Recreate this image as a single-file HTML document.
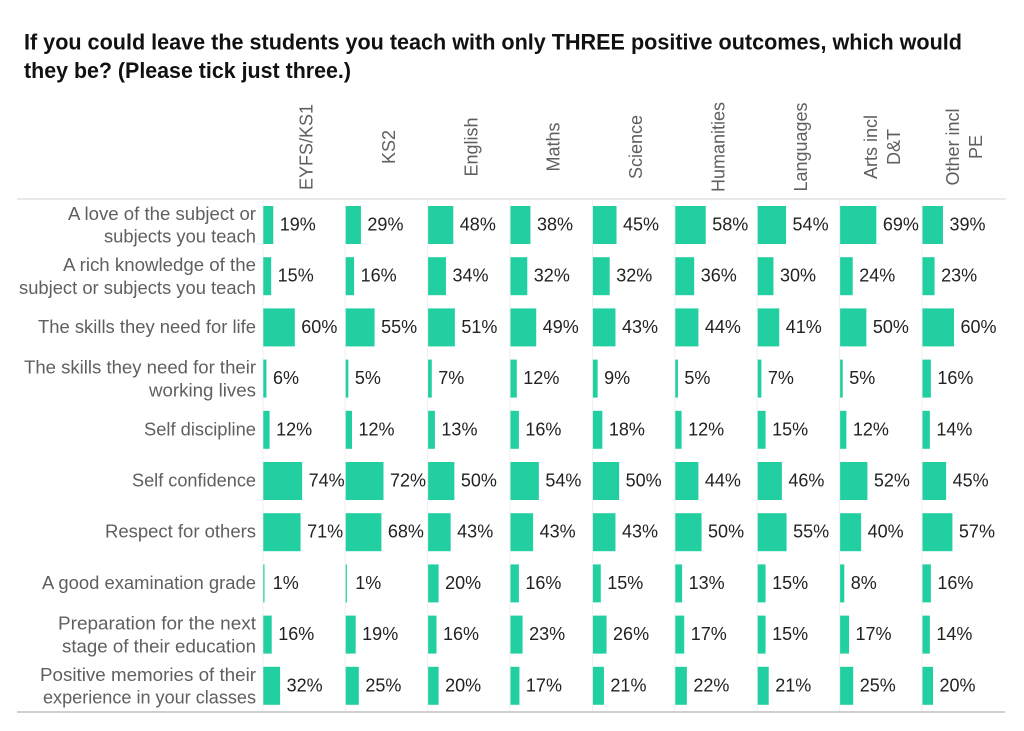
<!DOCTYPE html>
<html><head><meta charset="utf-8"><style>
html,body{margin:0;padding:0;background:#fff;}
svg{display:block;}
text{font-family:"Liberation Sans",Arial,sans-serif;}
.t{font-weight:bold;font-size:22.5px;fill:#111;}
.rl{font-size:18px;fill:#5f5f5f;text-anchor:end;}
.hd{font-size:18px;fill:#5f5f5f;text-anchor:middle;}
.pv{font-size:18px;fill:#222;}
.bar{fill:#22cfa1;}
</style></head><body>
<svg width="1024" height="731" viewBox="0 0 1024 731" xmlns="http://www.w3.org/2000/svg">
<rect width="1024" height="731" fill="#fff"/>
<text class="t" x="24" y="49.5" textLength="938" lengthAdjust="spacingAndGlyphs">If you could leave the students you teach with only THREE positive outcomes, which would</text>
<text class="t" x="24" y="78" textLength="327" lengthAdjust="spacingAndGlyphs">they be? (Please tick just three.)</text>
<g id="sep" stroke="#efefef" stroke-width="1">
<line x1="263" y1="200" x2="263" y2="712"/>
<line x1="345.2" y1="200" x2="345.2" y2="712"/>
<line x1="427.6" y1="200" x2="427.6" y2="712"/>
<line x1="510" y1="200" x2="510" y2="712"/>
<line x1="592.4" y1="200" x2="592.4" y2="712"/>
<line x1="674.8" y1="200" x2="674.8" y2="712"/>
<line x1="757.2" y1="200" x2="757.2" y2="712"/>
<line x1="839.6" y1="200" x2="839.6" y2="712"/>
<line x1="922" y1="200" x2="922" y2="712"/>
</g>
<line x1="17" y1="199" x2="1006" y2="199" stroke="#e2e2e2" stroke-width="1.5"/>
<line x1="17" y1="712" x2="1005" y2="712" stroke="#cfcfcf" stroke-width="2"/>
<g id="headers"></g>
<g id="rows"></g>
<script>
(function(){
var NS="http://www.w3.org/2000/svg";
function el(tag,attrs,txt,parent){var e=document.createElementNS(NS,tag);for(var k in attrs)e.setAttribute(k,attrs[k]);if(txt!=null)e.textContent=txt;parent.appendChild(e);return e;}
var heads=[["EYFS/KS1"],["KS2"],["English"],["Maths"],["Science"],["Humanities"],["Languages"],["Arts incl","D&T"],["Other incl","PE"]];
var hg=document.getElementById("headers");
for(var i=0;i<9;i++){
  var x0=263.3+82.4*i, c=x0+41.2;
  var h=heads[i];
  if(h.length==1){
    var bx=c+8; el("text",{"class":"hd",x:bx,y:147,transform:"rotate(-90 "+bx+" 147)"},h[0],hg);
  } else {
    var b1=c-4.5,b2=c+18.5;
    el("text",{"class":"hd",x:b1,y:147,transform:"rotate(-90 "+b1+" 147)"},h[0],hg);
    el("text",{"class":"hd",x:b2,y:147,transform:"rotate(-90 "+b2+" 147)"},h[1],hg);
  }
}
var rows=[
 [["A love of the subject or",188],["subjects you teach",152]],
 [["A rich knowledge of the",193],["subject or subjects you teach",237]],
 [["The skills they need for life",218]],
 [["The skills they need for their",232],["working lives",107]],
 [["Self discipline",112]],
 [["Self confidence",124]],
 [["Respect for others",151]],
 [["A good examination grade",214]],
 [["Preparation for the next",198],["stage of their education",194]],
 [["Positive memories of their",216],["experience in your classes",213]]
];
var data=[
 [19,29,48,38,45,58,54,69,39],
 [15,16,34,32,32,36,30,24,23],
 [60,55,51,49,43,44,41,50,60],
 [6,5,7,12,9,5,7,5,16],
 [12,12,13,16,18,12,15,12,14],
 [74,72,50,54,50,44,46,52,45],
 [71,68,43,43,43,50,55,40,57],
 [1,1,20,16,15,13,15,8,16],
 [16,19,16,23,26,17,15,17,14],
 [32,25,20,17,21,22,21,25,20]
];
var rg=document.getElementById("rows");
for(var r=0;r<10;r++){
  var top=200+51.2*r, cy=top+25;
  var L=rows[r];
  if(L.length==1){
    el("text",{"class":"rl",x:256,y:cy+5.5,textLength:L[0][1],lengthAdjust:"spacingAndGlyphs"},L[0][0],rg);
  } else {
    el("text",{"class":"rl",x:256,y:cy-5,textLength:L[0][1],lengthAdjust:"spacingAndGlyphs"},L[0][0],rg);
    el("text",{"class":"rl",x:256,y:cy+17.7,textLength:L[1][1],lengthAdjust:"spacingAndGlyphs"},L[1][0],rg);
  }
  for(var i=0;i<9;i++){
    var x0=263.3+82.4*i, v=data[r][i], w=Math.max(v*0.525,1.2);
    el("rect",{"class":"bar",x:x0,y:top+6,width:w,height:38},null,rg);
    var lx=x0+w+6.5; if(v<=2) lx=x0+9.5;
    el("text",{"class":"pv",x:lx,y:cy+5.5},v+"%",rg);
  }
}
})();
</script>
</svg>
</body></html>
